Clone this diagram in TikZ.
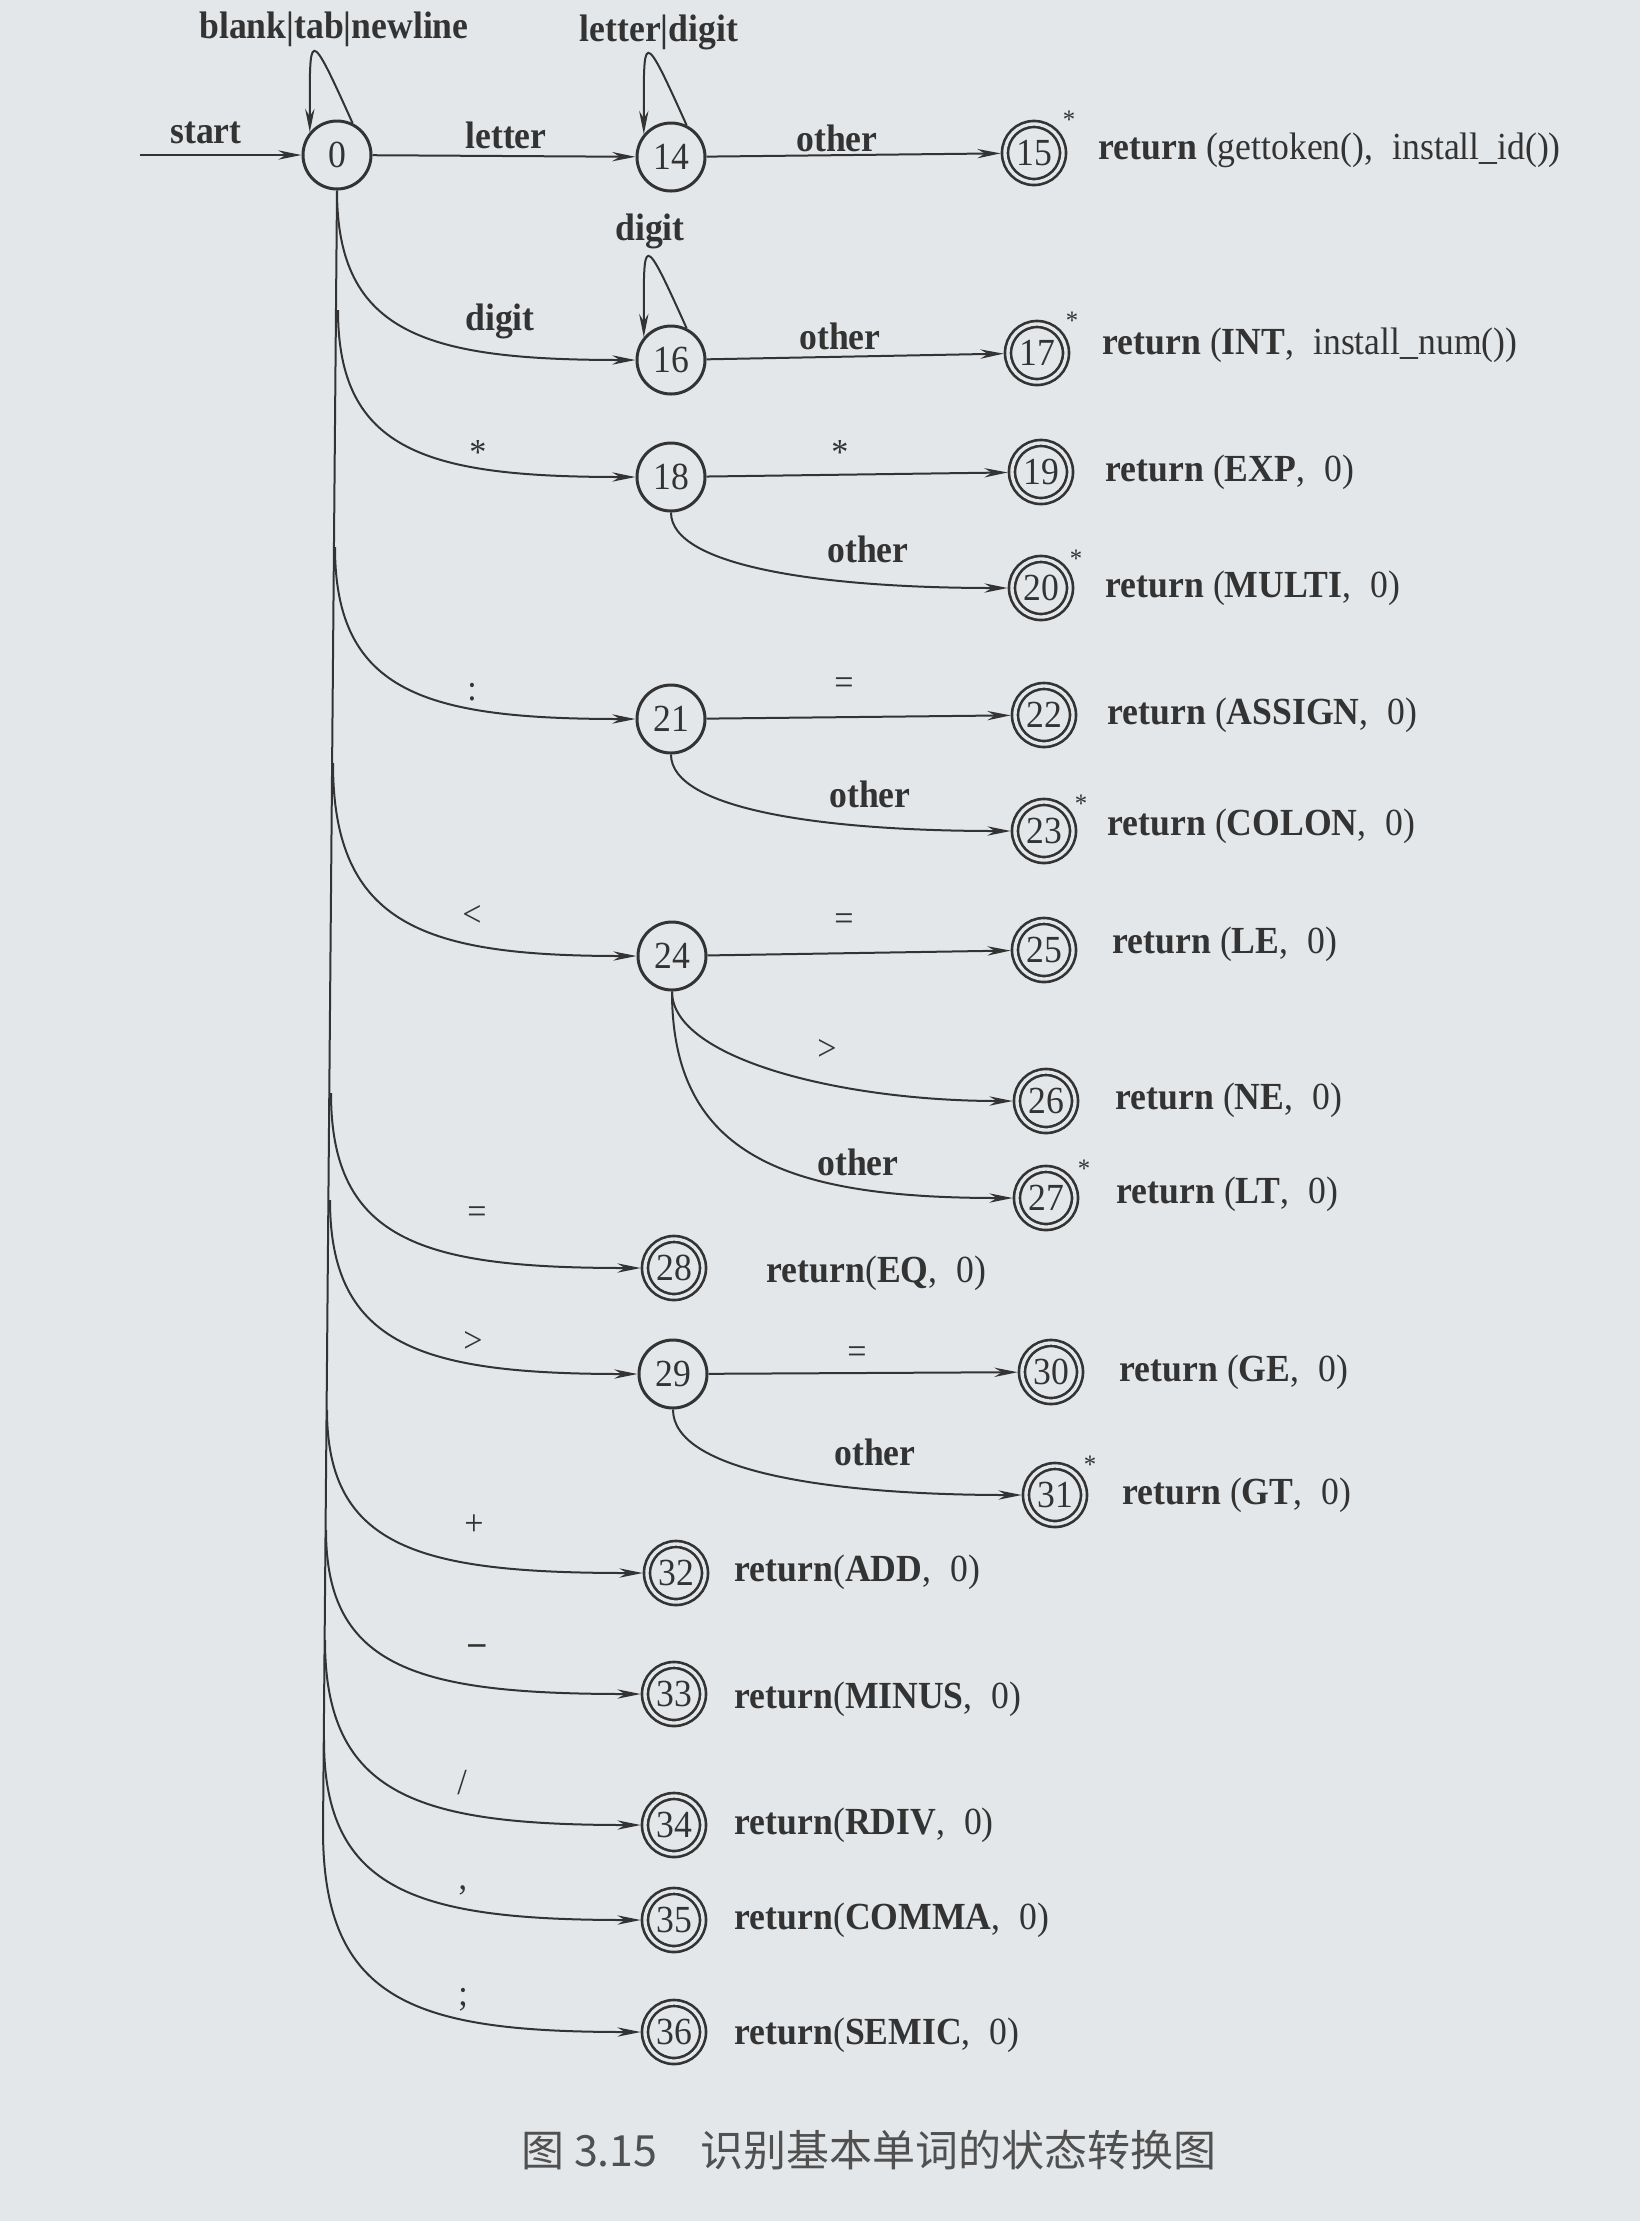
\documentclass[tikz,border=0pt]{standalone}
\usepackage{fontspec}
\setmainfont{Liberation Serif}[FakeStretch=0.93]
\newfontfamily\cjk{Noto Sans CJK SC}
\usetikzlibrary{arrows.meta}
\definecolor{bgcol}{HTML}{E4E7E9}
\definecolor{ink}{HTML}{333333}
\definecolor{capcol}{HTML}{505050}
\begin{document}
\begin{tikzpicture}[x=0.3pt,y=-0.3pt,
  font=\fontsize{11.5pt}{13pt}\selectfont,
  every node/.style={text=ink},
  st/.style={circle,draw=ink,line width=0.9pt,minimum size=20.4pt,inner sep=0pt},
  acc/.style={circle,draw=ink,line width=0.8pt,double=bgcol,double distance=1pt,minimum size=17.4pt,inner sep=0pt,outer sep=1.3pt},
  arr/.style={draw=ink,line width=0.6pt,-{Stealth[length=7pt,width=2.8pt]}},
  trunkline/.style={draw=ink,line width=0.6pt},
  lab/.style={font=\fontsize{11.5pt}{13pt}\selectfont\bfseries},
  sym/.style={font=\fontsize{11pt}{13pt}\selectfont},
  ret/.style={anchor=west},
  starmark/.style={font=\fontsize{8pt}{9pt}\selectfont,inner sep=0pt}
]
\path[fill=bgcol,use as bounding box] (0,0) rectangle (1640,2221);

% states
\node[st] (n0) at (337,155) {0};
\node[st] (n14) at (671,157) {14};
\node[acc] (n15) at (1034,153) {15};
\node[st] (n16) at (671,360) {16};
\node[acc] (n17) at (1037,353) {17};
\node[st] (n18) at (671,477) {18};
\node[acc] (n19) at (1041,472) {19};
\node[acc] (n20) at (1041,588) {20};
\node[st] (n21) at (671,719) {21};
\node[acc] (n22) at (1044,715) {22};
\node[acc] (n23) at (1044,831) {23};
\node[st] (n24) at (672,956) {24};
\node[acc] (n25) at (1044,950) {25};
\node[acc] (n26) at (1046,1101) {26};
\node[acc] (n27) at (1046,1198) {27};
\node[acc] (n28) at (674,1268) {28};
\node[st] (n29) at (673,1374) {29};
\node[acc] (n30) at (1051,1372) {30};
\node[acc] (n31) at (1055,1495) {31};
\node[acc] (n32) at (676,1573) {32};
\node[acc] (n33) at (674,1694) {33};
\node[acc] (n34) at (674,1825) {34};
\node[acc] (n35) at (674,1920) {35};
\node[acc] (n36) at (674,2032) {36};

% stars
\node[starmark] (s15) at (1069,120) {*};
\node[starmark] (s17) at (1072,321) {*};
\node[starmark] (s20) at (1076,559) {*};
\node[starmark] (s23) at (1081,804) {*};
\node[starmark] (s27) at (1084,1169) {*};
\node[starmark] (s31) at (1090,1465) {*};

% return texts
\node[ret] (r15) at (1087,150) {\textbf{return} (gettoken(),\enspace install\_id())};
\node[ret] (r17) at (1091,345) {\textbf{return} (\textbf{INT},\enspace install\_num())};
\node[ret] (r19) at (1094,472) {\textbf{return} (\textbf{EXP},\enspace 0)};
\node[ret] (r20) at (1094,588) {\textbf{return} (\textbf{MULTI},\enspace 0)};
\node[ret] (r22) at (1096,715) {\textbf{return} (\textbf{ASSIGN},\enspace 0)};
\node[ret] (r23) at (1096,826) {\textbf{return} (\textbf{COLON},\enspace 0)};
\node[ret] (r25) at (1101,944) {\textbf{return} (\textbf{LE},\enspace 0)};
\node[ret] (r26) at (1104,1100) {\textbf{return} (\textbf{NE},\enspace 0)};
\node[ret] (r27) at (1105,1194) {\textbf{return} (\textbf{LT},\enspace 0)};
\node[ret] (r28) at (755,1273) {\textbf{return}(\textbf{EQ},\enspace 0)};
\node[ret] (r30) at (1108,1372) {\textbf{return} (\textbf{GE},\enspace 0)};
\node[ret] (r31) at (1111,1495) {\textbf{return} (\textbf{GT},\enspace 0)};
\node[ret] (r32) at (723,1572) {\textbf{return}(\textbf{ADD},\enspace 0)};
\node[ret] (r33) at (723,1699) {\textbf{return}(\textbf{MINUS},\enspace 0)};
\node[ret] (r34) at (723,1825) {\textbf{return}(\textbf{RDIV},\enspace 0)};
\node[ret] (r35) at (723,1920) {\textbf{return}(\textbf{COMMA},\enspace 0)};
\node[ret] (r36) at (723,2035) {\textbf{return}(\textbf{SEMIC},\enspace 0)};

% start
\coordinate (st0) at (140,155);
\draw[arr] (st0) -- (n0);
\node[lab] (lstart) at (206,133) {start};

% self loops
\draw[arr] (n0.64) .. controls +(-45,-100) and +(0,-100) .. (n0.140);
\node[lab] (lloop0) at (334,29) {blank|tab|newline};
\draw[arr] (n14.64) .. controls +(-45,-100) and +(0,-100) .. (n14.140);
\node[lab] (lloop14) at (659,32) {letter|digit};
\draw[arr] (n16.64) .. controls +(-45,-100) and +(0,-100) .. (n16.140);
\node[lab] (lloop16) at (650,231) {digit};

% straight edges
\draw[arr] (n0) -- (n14);
\node[lab] (l014) at (506,135) {letter};
\draw[arr] (n14) -- (n15);
\node[lab] (l1415) at (837,138) {other};
\draw[arr] (n16) -- (n17);
\node[lab] (l1617) at (840,336) {other};
\draw[arr] (n18) -- (n19);
\node[sym] (l1819) at (840,452) {*};
\draw[arr] (n21) -- (n22);
\node[sym] (l2122) at (844,686) {=};
\draw[arr] (n24) -- (n25);
\node[sym] (l2425) at (844,922) {=};
\draw[arr] (n29) -- (n30);
\node[sym] (l2930) at (857,1355) {=};

% trunk
\coordinate (b18) at (338,310);
\coordinate (b21) at (335,547);
\coordinate (b24) at (333,763);
\coordinate (b28) at (331,1093);
\coordinate (b29) at (330,1200);
\coordinate (b32) at (327,1410);
\coordinate (b33) at (326,1530);
\coordinate (b34) at (325,1640);
\coordinate (b35) at (324,1740);
\coordinate (b36) at (323,1830);
\draw[trunkline] (n0.south) -- (b36);

% branches from trunk
\draw[arr] (n0.south) .. controls +(0,144) and +(-244,0) .. (n16);
\node[lab] (l016) at (500,321) {digit};
\draw[arr] (b18) .. controls +(0,142) and +(-243,0) .. (n18);
\node[sym] (l018) at (478,452) {*};
\draw[arr] (b21) .. controls +(0,146) and +(-245,0) .. (n21);
\node[sym] (l021) at (472,692) {:};
\draw[arr] (b24) .. controls +(0,163) and +(-247,0) .. (n24);
\node[sym] (l024) at (472,916) {<};
\draw[arr] (b28) .. controls +(0,149) and +(-250,0) .. (n28);
\node[sym] (l028) at (477,1215) {=};
\draw[arr] (b29) .. controls +(0,146) and +(-251,0) .. (n29);
\node[sym] (l029) at (473,1342) {>};
\draw[arr] (b32) .. controls +(0,139) and +(-254,0) .. (n32);
\node[sym] (l032) at (474,1525) {+};
\draw[arr] (b33) .. controls +(0,139) and +(-255,0) .. (n33);
\node[sym] (l033) at (477,1650) {\textbf{\textendash}};
\draw[arr] (b34) .. controls +(0,156) and +(-256,0) .. (n34);
\node[sym] (l034) at (462,1783) {/};
\draw[arr] (b35) .. controls +(0,152) and +(-256,0) .. (n35);
\node[sym] (l035) at (463,1890) {,};
\draw[arr] (b36) .. controls +(0,173) and +(-257,0) .. (n36);
\node[sym] (l036) at (463,2000) {;};

% secondary branches
\draw[arr] (n18.south) .. controls +(0,54) and +(-218,0) .. (n20);
\node[lab] (l1820) at (868,549) {other};
\draw[arr] (n21.south) .. controls +(0,55) and +(-220,0) .. (n23);
\node[lab] (l2123) at (870,794) {other};
\draw[arr] (n24.south) .. controls +(0,67) and +(-205,0) .. (n26);
\node[sym] (l2426) at (827,1050) {>};
\draw[arr] (n24.south) .. controls +(0,166) and +(-257,0) .. (n27);
\node[lab] (l2427) at (858,1162) {other};
\draw[arr] (n29.south) .. controls +(0,62) and +(-224,0) .. (n31);
\node[lab] (l2931) at (875,1452) {other};

% caption
\node[font=\cjk\fontsize{12.9pt}{15pt}\selectfont,text=capcol] (cap) at (869,2150) {图 3.15\quad 识别基本单词的状态转换图};
\end{tikzpicture}
\end{document}
